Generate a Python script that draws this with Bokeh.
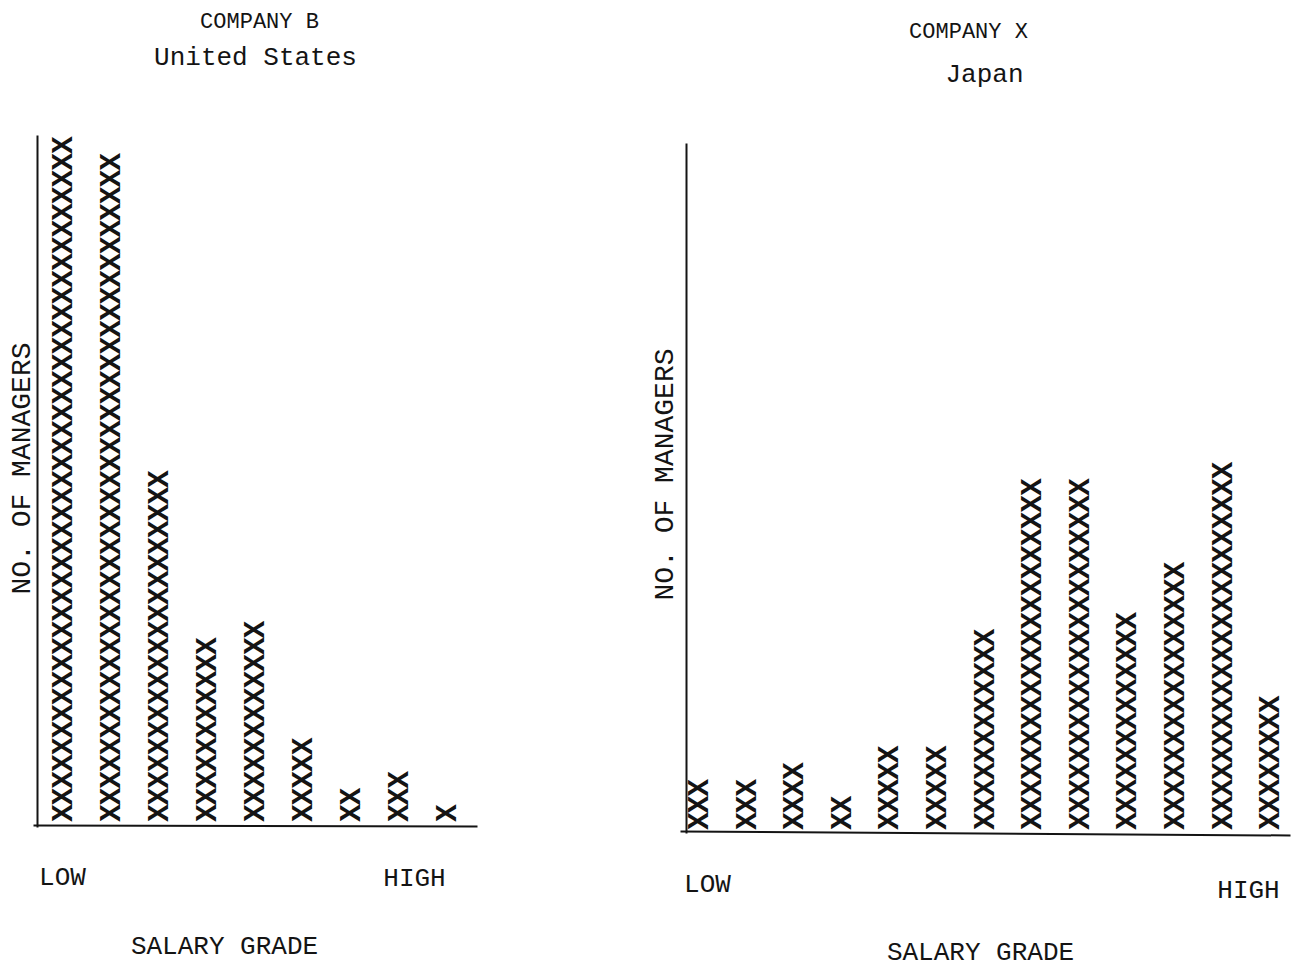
import math
from bokeh.plotting import figure
from bokeh.models import ColumnDataSource, Range1d, Label
from bokeh.layouts import row
from bokeh.core.properties import value
from bokeh.embed import file_html
from bokeh.resources import INLINE

# ---- data ----
LEFT_TITLE = "COMPANY B"
LEFT_SUBTITLE = "United States"
LEFT_COUNTS = [41, 40, 21, 11, 12, 5, 2, 3, 1]          # salary grades low -> high
RIGHT_TITLE = "COMPANY X"
RIGHT_SUBTITLE = "Japan"
RIGHT_COUNTS = [3, 3, 4, 2, 5, 5, 12, 21, 21, 13, 16, 22, 8]
Y_LABEL = "NO. OF MANAGERS"
X_LABEL = "SALARY GRADE"
LOW_LABEL = "LOW"
HIGH_LABEL = "HIGH"

FONT = "Liberation Mono"
INK = "#141414"
H = 970
TOP = 0


def make_panel(counts, width, x0px, dx, base_py, left_px):
    """x0px: picture x of grade 1, dx: px per grade, base_py: picture y of count 0,
    left_px: picture x of the figure's left edge."""
    pitch = 16.7

    def gx(px):
        return 1 + (px - x0px) / dx

    def gy(py):
        return (base_py - py) / pitch

    p = figure(width=width, height=H,
               x_range=Range1d(gx(left_px), gx(left_px + width)),
               y_range=Range1d(gy(TOP + H), gy(TOP)),
               min_border=0, min_border_left=0, min_border_right=0,
               min_border_top=0, min_border_bottom=0,
               x_axis_location=None, y_axis_location=None,
               toolbar_location=None, output_backend="svg")
    p.grid.visible = False
    p.outline_line_color = None
    p.background_fill_color = "white"
    p.border_fill_color = "white"

    xs, ys = [], []
    for g, n in enumerate(counts, start=1):
        for i in range(n):
            xs.append(g)
            ys.append(i + 0.5)
    src = ColumnDataSource(dict(x=xs, y=ys, t=["X"] * len(xs)))
    p.text(x="x", y="y", text="t", source=src, angle=math.pi / 2,
           text_font=value(FONT), text_font_size="29px", text_font_style="bold",
           text_align="center", text_baseline="middle", text_color=INK)
    return p, gx, gy


def add_text(p, x, y, txt, size, angle=0.0):
    p.add_layout(Label(x=x, y=y, text=txt, angle=angle,
                       text_font=FONT, text_font_size=size, text_color=INK,
                       text_align="center", text_baseline="middle"))


# ---- left chart ----
p1, gx1, gy1 = make_panel(LEFT_COUNTS, 640, 64, 48, 821, 0)
p1.segment(x0=[gx1(37)], y0=[gy1(135)], x1=[gx1(37)], y1=[gy1(827)],
           line_color=INK, line_width=2)
p1.segment(x0=[gx1(33)], y0=[gy1(825)], x1=[gx1(477)], y1=[gy1(826)],
           line_color=INK, line_width=2)
add_text(p1, gx1(259), gy1(22), LEFT_TITLE, "22px")
add_text(p1, gx1(255), gy1(57), LEFT_SUBTITLE, "26px")
add_text(p1, gx1(22), gy1(468), Y_LABEL, "28px", math.pi / 2)
add_text(p1, gx1(62), gy1(877), LOW_LABEL, "26px")
add_text(p1, gx1(414), gy1(878), HIGH_LABEL, "26px")
add_text(p1, gx1(224), gy1(946), X_LABEL, "26px")

# ---- right chart ----
p2, gx2, gy2 = make_panel(RIGHT_COUNTS, 663, 700, 47.6, 829, 640)
p2.segment(x0=[gx2(686)], y0=[gy2(143)], x1=[gx2(686)], y1=[gy2(833)],
           line_color=INK, line_width=2)
p2.segment(x0=[gx2(680)], y0=[gy2(831)], x1=[gx2(1290)], y1=[gy2(835)],
           line_color=INK, line_width=2)
add_text(p2, gx2(968), gy2(32), RIGHT_TITLE, "22px")
add_text(p2, gx2(984), gy2(74), RIGHT_SUBTITLE, "26px")
add_text(p2, gx2(665), gy2(474), Y_LABEL, "28px", math.pi / 2)
add_text(p2, gx2(707), gy2(884), LOW_LABEL, "26px")
add_text(p2, gx2(1248), gy2(890), HIGH_LABEL, "26px")
add_text(p2, gx2(980), gy2(952), X_LABEL, "26px")

layout = row(p1, p2, spacing=0)
open("out.html", "w").write(file_html(layout, INLINE))
